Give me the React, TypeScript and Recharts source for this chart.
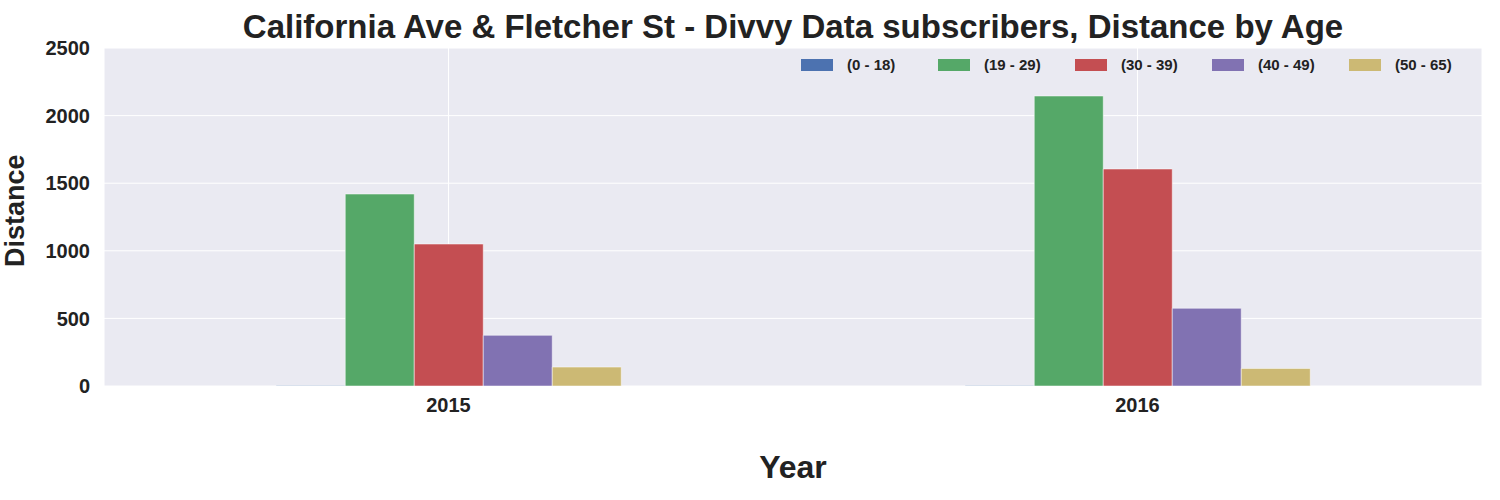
import React from 'react';
import { BarChart, Bar, XAxis, YAxis, CartesianGrid } from 'recharts';

const years = ['2015', '2016'];
const age0to18 = [4, 4];
const age19to29 = [1420, 2145];
const age30to39 = [1050, 1605];
const age40to49 = [375, 575];
const age50to65 = [140, 130];
const yTicks = [0, 500, 1000, 1500, 2000, 2500];

const series = [
  { key: 'a', name: '(0 - 18)', color: '#4C72B0' },
  { key: 'b', name: '(19 - 29)', color: '#55A868' },
  { key: 'c', name: '(30 - 39)', color: '#C44E52' },
  { key: 'd', name: '(40 - 49)', color: '#8172B2' },
  { key: 'e', name: '(50 - 65)', color: '#CCB974' },
];

const data = years.map((y, i) => ({
  year: y, a: age0to18[i], b: age19to29[i], c: age30to39[i], d: age40to49[i], e: age50to65[i],
}));

const font = '"Liberation Sans", Arial, sans-serif';

export default function App() {
  return (
    <div style={{ position: 'absolute', left: 0, top: 0, width: 1500, height: 500, background: '#fff', fontFamily: font }}>
      <BarChart width={1500} height={500} data={data} margin={{ top: 48, right: 18, left: 0, bottom: 84 }}
        barCategoryGap="25%" barGap={0}>
        <CartesianGrid stroke="#fff" fill="#EAEAF2" strokeWidth={1} />
        <XAxis dataKey="year" axisLine={false} tickLine={false}
          tick={{ fill: '#222', fontSize: 20, fontWeight: 'bold' }} tickMargin={6}
          label={{ value: 'Year', position: 'insideBottom', offset: -62, fill: '#222', fontSize: 32, fontWeight: 'bold' }} />
        <YAxis domain={[0, 2500]} ticks={yTicks} axisLine={false} tickLine={false} width={104}
          tick={{ fill: '#222', fontSize: 20, fontWeight: 'bold' }} tickMargin={8}
          label={{ value: 'Distance', angle: -90, position: 'insideLeft', offset: 14, fill: '#222', fontSize: 27, fontWeight: 'bold', dy: 50 }} />
        {series.map(s => (
          <Bar key={s.key} dataKey={s.key} name={s.name} fill={s.color} stroke="#fff" strokeWidth={0.5} isAnimationActive={false} />
        ))}
      </BarChart>
      <div style={{ position: 'absolute', top: 8, left: 0, width: 1586, textAlign: 'center', fontSize: 33, fontWeight: 'bold', color: '#222' }}>
        California Ave &amp; Fletcher St - Divvy Data subscribers, Distance by Age
      </div>
      <div style={{ position: 'absolute', top: 56, left: 795, display: 'flex', fontSize: 15, fontWeight: 'bold', color: '#222' }}>
        {series.map(s => (
          <div key={s.key} style={{ display: 'flex', alignItems: 'center', width: 137 }}>
            <span style={{ width: 32, height: 12, background: s.color, display: 'inline-block', margin: '0 14px 0 6px' }} />
            {s.name}
          </div>
        ))}
      </div>
    </div>
  );
}
